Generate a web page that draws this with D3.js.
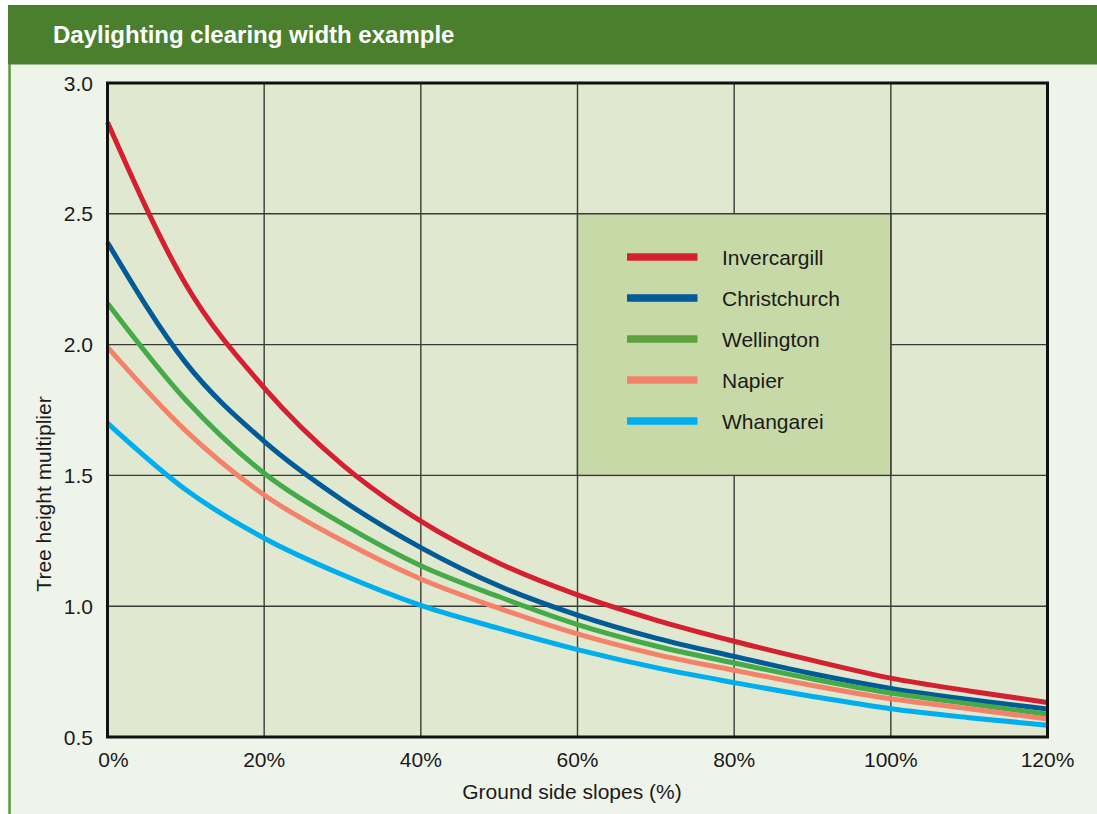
<!DOCTYPE html>
<html>
<head>
<meta charset="utf-8">
<script src="https://cdn.jsdelivr.net/npm/d3@7"></script>
<style>
  html, body { margin: 0; padding: 0; background: #ffffff; }
  svg { display: block; }
  text { font-family: "Liberation Sans", Arial, Helvetica, sans-serif; }
</style>
</head>
<body>
<svg id="chart" width="1097" height="814"></svg>
<script>
// ---------- data ----------
const title = "Daylighting clearing width example";
const xLabel = "Ground side slopes (%)";
const yLabel = "Tree height multiplier";
const slopes = [0, 10, 20, 30, 40, 50, 60, 70, 80, 90, 100, 110, 120];
const xTicks = [0, 20, 40, 60, 80, 100, 120];
const xTickLabels = ["0%", "20%", "40%", "60%", "80%", "100%", "120%"];
const yTicks = [0.5, 1.0, 1.5, 2.0, 2.5, 3.0];
const yTickLabels = ["0.5", "1.0", "1.5", "2.0", "2.5", "3.0"];
const seriesNames = ["Invercargill", "Christchurch", "Wellington", "Napier", "Whangarei"];
const seriesColors = ["#d42030", "#005b96", "#45aa48", "#f4826a", "#00aeef"];
const legendColors = ["#d42030", "#005b96", "#5ea03c", "#f4826a", "#00aeef"];
const invercargill = [2.85, 2.23, 1.835, 1.54, 1.325, 1.164, 1.043, 0.947, 0.866, 0.793, 0.725, 0.676, 0.632];
const christchurch = [2.39, 1.93, 1.63, 1.405, 1.224, 1.077, 0.966, 0.878, 0.808, 0.742, 0.686, 0.643, 0.607];
const wellington   = [2.158, 1.788, 1.508, 1.315, 1.155, 1.036, 0.93, 0.848, 0.783, 0.722, 0.668, 0.627, 0.587];
const napier       = [1.99, 1.67, 1.425, 1.25, 1.104, 0.992, 0.894, 0.816, 0.755, 0.697, 0.646, 0.608, 0.569];
const whangarei    = [1.70, 1.445, 1.26, 1.12, 1.003, 0.915, 0.834, 0.765, 0.708, 0.655, 0.608, 0.574, 0.545];
const seriesValues = [invercargill, christchurch, wellington, napier, whangarei];

// ---------- layout ----------
const svg = d3.select("#chart");
const W = 1097, H = 814;
const plot = { left: 107.5, right: 1047.5, top: 83, bottom: 737 };

const x = d3.scaleLinear().domain([0, 120]).range([plot.left, plot.right]);
const y = d3.scaleLinear().domain([0.5, 3.0]).range([plot.bottom, plot.top]);

// page background
svg.append("rect").attr("x", 0).attr("y", 0).attr("width", W).attr("height", H).attr("fill", "#ffffff");
svg.append("rect").attr("x", 8).attr("y", 64).attr("width", W - 8).attr("height", H - 64).attr("fill", "#eff4ea");
// header bar
svg.append("rect").attr("x", 8).attr("y", 5).attr("width", W - 8).attr("height", 59.5).attr("fill", "#4a7f2e");
svg.append("text").attr("x", 53).attr("y", 43)
  .attr("fill", "#ffffff").attr("font-size", 24).attr("font-weight", "bold")
  .text(title);
// left green rule
svg.append("rect").attr("x", 8.3).attr("y", 64).attr("width", 2.5).attr("height", H - 64).attr("fill", "#5c9a3a");

// plot background
svg.append("rect")
  .attr("x", plot.left).attr("y", plot.top)
  .attr("width", plot.right - plot.left).attr("height", plot.bottom - plot.top)
  .attr("fill", "#e0e9cf");

// grid
const grid = svg.append("g").attr("stroke", "#3a3a36").attr("stroke-width", 1.4);
grid.selectAll("line.v").data(xTicks.slice(1, -1)).join("line")
  .attr("x1", d => x(d)).attr("x2", d => x(d))
  .attr("y1", plot.top).attr("y2", plot.bottom);
grid.selectAll("line.h").data(yTicks.slice(1, -1)).join("line")
  .attr("x1", plot.left).attr("x2", plot.right)
  .attr("y1", d => y(d)).attr("y2", d => y(d));

// legend box (aligned to grid cells)
const lg = svg.append("g");
lg.append("rect")
  .attr("x", x(60)).attr("y", y(2.5))
  .attr("width", x(100) - x(60)).attr("height", y(1.5) - y(2.5))
  .attr("fill", "#c8d9a8").attr("stroke", "#3a3a36").attr("stroke-width", 1.4);
const legendRowY = d3.scaleLinear().domain([0, 4]).range([257, 421]);
seriesNames.forEach((name, i) => {
  lg.append("line")
    .attr("x1", 627).attr("x2", 697.5)
    .attr("y1", legendRowY(i)).attr("y2", legendRowY(i))
    .attr("stroke", legendColors[i]).attr("stroke-width", 7.5);
  lg.append("text")
    .attr("x", 722).attr("y", legendRowY(i)).attr("dy", "0.36em")
    .attr("font-size", 21).attr("fill", "#1a1a1a")
    .text(name);
});

// series lines
const line = d3.line()
  .x((d, i) => x(slopes[i]))
  .y(d => y(d))
  .curve(d3.curveMonotoneX);
seriesValues.forEach((vals, i) => {
  svg.append("path")
    .attr("d", line(vals))
    .attr("fill", "none")
    .attr("stroke", seriesColors[i])
    .attr("stroke-width", 5);
});

// frame
svg.append("rect")
  .attr("x", plot.left).attr("y", plot.top)
  .attr("width", plot.right - plot.left).attr("height", plot.bottom - plot.top)
  .attr("fill", "none").attr("stroke", "#111111").attr("stroke-width", 3);

// y tick labels
svg.append("g").selectAll("text").data(yTicks).join("text")
  .attr("x", 93).attr("y", d => y(d)).attr("dy", "0.36em")
  .attr("text-anchor", "end").attr("font-size", 21).attr("fill", "#1a1a1a")
  .text((d, i) => yTickLabels[i]);

// x tick labels
svg.append("g").selectAll("text").data(xTicks).join("text")
  .attr("x", (d, i) => x(d) + (i === 0 ? 6 : 0)).attr("y", 767)
  .attr("text-anchor", "middle").attr("font-size", 21).attr("fill", "#1a1a1a")
  .text((d, i) => xTickLabels[i]);

// axis titles
svg.append("text")
  .attr("x", 572).attr("y", 799)
  .attr("text-anchor", "middle").attr("font-size", 21).attr("fill", "#1a1a1a")
  .text(xLabel);
svg.append("text")
  .attr("transform", "translate(51,494) rotate(-90)")
  .attr("text-anchor", "middle").attr("font-size", 21).attr("fill", "#1a1a1a")
  .text(yLabel);
</script>
</body>
</html>
